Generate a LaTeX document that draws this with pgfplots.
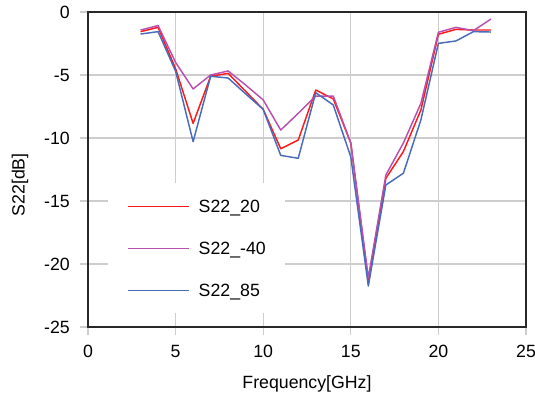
\documentclass[border=0pt]{standalone}
\usepackage{pgfplots}
\pgfplotsset{compat=1.18}
\usepackage{fontspec}
\setmainfont{Liberation Sans}
\definecolor{cRed}{RGB}{255,24,24}
\definecolor{cPur}{RGB}{184,80,176}
\definecolor{cBlu}{RGB}{72,108,188}
\definecolor{cGrid}{RGB}{205,205,205}
\definecolor{cAx}{RGB}{40,40,40}
\begin{document}
\begin{tikzpicture}
\begin{axis}[
  at={(0,0)}, anchor=south west,
  scale only axis, width=328.5pt, height=236.25pt,
  xmin=0, xmax=25, ymin=-25, ymax=0,
  xtick={0,5,10,15,20,25}, ytick={-25,-20,-15,-10,-5,0},
  font=\fontsize{13.3}{15}\selectfont,
  /pgf/number format/assume math mode=true,
  grid=major,
  major grid style={cGrid, line width=1pt},
  tick align=outside, tick pos=left,
  major tick length=6pt,
  major tick style={cGrid, line width=1pt},
  axis line style={cAx, line width=1.4pt},
  xticklabel style={inner sep=0pt, anchor=north, yshift=-7.5pt},
  yticklabel style={inner sep=0pt, anchor=east, xshift=-7.5pt},
  xlabel={Frequency[GHz]},
  ylabel={S22[dB]},
  xlabel style={at={(axis description cs:0.5,-0.1937)}, anchor=base, inner sep=0pt},
  ylabel style={at={(axis description cs:-0.1553,0.451)}, anchor=center, inner sep=0pt},
  legend style={at={(0.0457,0.457)}, anchor=north west, draw=none, fill=white,
    inner xsep=14.25pt, inner ysep=12.5pt, row sep=22pt, column sep=6.75pt,
    nodes={inner sep=0pt, text height=9.5pt, text depth=0pt},
    font=\fontsize{13.3}{15}\selectfont},
  legend cell align=left,
  legend image code/.code={\draw[#1] (0pt,0pt) -- (45.75pt,0pt);},
  every axis plot/.append style={line width=1.1pt, line join=round},
]
\addplot[cRed, no marks] coordinates {
(3,-1.56) (4,-1.22) (5,-4.5) (6,-8.84) (7,-5.1) (8,-4.87) (9,-6.3) (10,-7.73)
(11,-10.85) (12,-10.16) (13,-6.19) (14,-6.9) (15,-10.4) (16,-21.3) (17,-13.2)
(18,-11.08) (19,-7.78) (20,-1.77) (21,-1.38) (22,-1.43) (23,-1.43)};
\addlegendentry{S22\_20}
\addplot[cPur, no marks] coordinates {
(3,-1.43) (4,-1.08) (5,-4.0) (6,-6.11) (7,-5.0) (8,-4.68) (9,-5.8) (10,-6.98)
(11,-9.37) (12,-8.04) (13,-6.67) (14,-6.67) (15,-10.4) (16,-21.1) (17,-12.94)
(18,-10.4) (19,-7.25) (20,-1.61) (21,-1.22) (22,-1.48) (23,-0.56)};
\addlegendentry{S22\_-40}
\addplot[cBlu, no marks] coordinates {
(3,-1.75) (4,-1.56) (5,-4.7) (6,-10.29) (7,-5.1) (8,-5.24) (9,-6.5) (10,-7.73)
(11,-11.38) (12,-11.61) (13,-6.40) (14,-7.38) (15,-11.5) (16,-21.75) (17,-13.73)
(18,-12.8) (19,-8.57) (20,-2.49) (21,-2.30) (22,-1.56) (23,-1.59)};
\addlegendentry{S22\_85}
\end{axis}
\pgfresetboundingbox
\path[use as bounding box] (-66pt,-53.25pt) rectangle (335.25pt,245.25pt);
\end{tikzpicture}
\end{document}
